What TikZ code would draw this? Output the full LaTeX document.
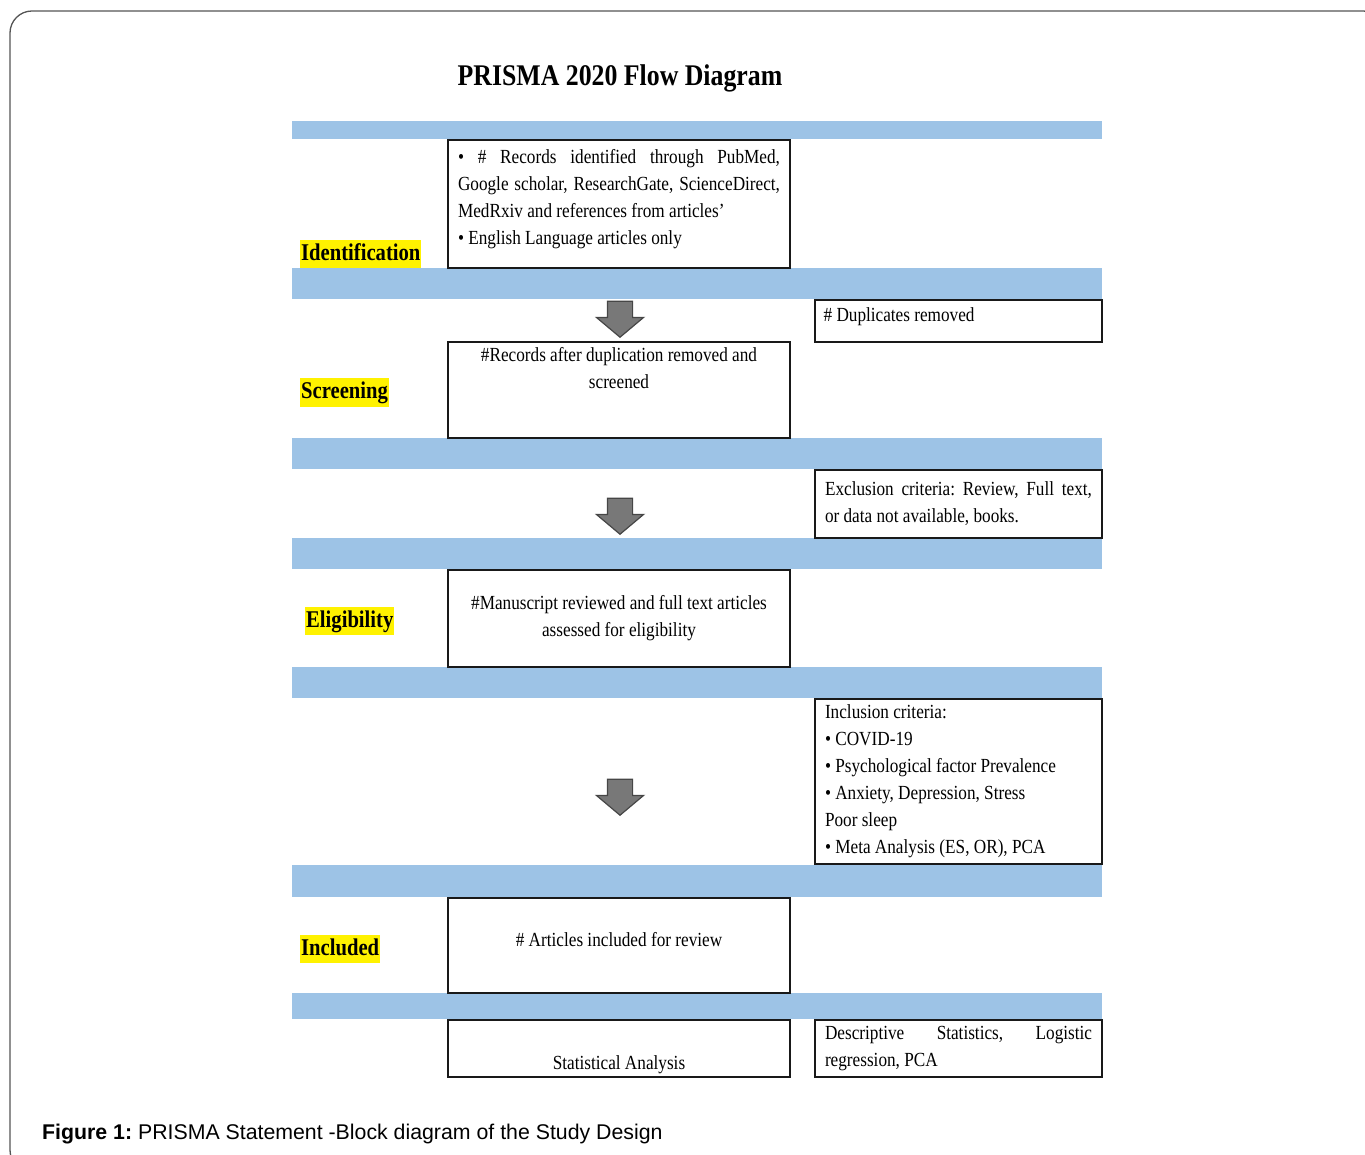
\documentclass[tikz,border=0pt]{standalone}
\usepackage{fontspec}
\setmainfont{Liberation Serif}[FakeStretch=0.86]
\newfontfamily\capfont{Liberation Sans}
\usetikzlibrary{positioning,shapes.arrows}
\definecolor{bandblue}{RGB}{157,195,230}
\definecolor{arrowgray}{RGB}{120,120,120}
\definecolor{arrowedge}{RGB}{70,70,70}
\definecolor{frameline}{RGB}{85,85,85}
\hyphenpenalty=10000
\exhyphenpenalty=10000
\frenchspacing
\tikzset{
  box/.style={draw=black!90, line width=1.2pt, fill=white, inner xsep=10pt, inner ysep=0pt},
  stage/.style={fill=yellow, font=\fontsize{24}{28}\selectfont\bfseries, text height=20pt, text depth=7pt, inner xsep=1pt, inner ysep=0.5pt, anchor=west},
  downarrow/.style={single arrow, rotate=-90, anchor=tip, fill=arrowgray, draw=arrowedge, line width=1.2pt, minimum height=36pt, single arrow head extend=11pt, single arrow tip angle=100, inner xsep=0pt, inner ysep=12pt}
}
\begin{document}
\begin{tikzpicture}[x=1pt, y=-1pt, font=\fontsize{20}{27}\selectfont]
\useasboundingbox (0,0) rectangle (1365,1155);
\clip (0,0) rectangle (1365,1155);
% Outer frame, runs off the right and bottom edges
\draw[frameline, line width=1.3pt, rounded corners=22pt] (10,11) rectangle (1385,1172);
% Title
\node[font=\fontsize{30}{36}\selectfont\bfseries] (title) at (620,78) {PRISMA 2020 Flow Diagram};
% Blue bands between the stages
\foreach \yt/\yb in {121/139, 268/299, 438/469, 538/569, 667/698, 865/897, 993/1019}
{
  \fill[bandblue] (292,\yt) rectangle (1102,\yb);
}
% Stage names
\node[stage] (lident) at (300,254) {Identification};
\node[stage] (lscreen) at (300,392.5) {Screening};
\node[stage] (lelig) at (305,620.5) {Eligibility};
\node[stage] (lincl) at (300,949) {Included};
% Left column
\node[box, minimum width=342pt, minimum height=128pt] (ident) at (619,204) {};
\node[below=10pt of ident.north, inner sep=0pt, text width=322pt, align=justify] (identtxt)
  {• \# Records identified through PubMed, Google scholar, ResearchGate, ScienceDirect, MedRxiv and references from articles’\\ • English Language articles only};
\node[box, minimum width=342pt, minimum height=96pt] (screen) at (619,390) {};
\node[below=6pt of screen.north, inner sep=0pt, align=flush center] (screentxt) {\#Records after duplication removed and\\ screened};
\node[box, minimum width=342pt, minimum height=97pt, align=flush center] (elig) at (619,618.5)
  {\#Manuscript reviewed and full text articles\\ assessed for eligibility};
\node[box, minimum width=342pt, minimum height=95pt] (incl) at (619,945.5) {};
\node[inner sep=0pt] (incltxt) at (619,940) {\# Articles included for review};
\node[box, minimum width=342pt, minimum height=57pt] (stat) at (619,1048.5) {};
\node[above=4pt of stat.south, inner sep=0pt] (stattxt) {Statistical Analysis};
% Right column
\node[box, minimum width=287pt, minimum height=42pt] (dup) at (958.5,321) {};
\node[below right=8pt and 9pt of dup.north west, inner sep=0pt] (duptxt) {\# Duplicates removed};
\node[box, minimum width=287pt, minimum height=68pt, text width=267pt, align=justify] (excl) at (958.5,504)
  {Exclusion criteria: Review, Full text,\linebreak or data not available, books.};
\node[box, minimum width=287pt, minimum height=165pt, text width=267pt, align=flush left] (crit) at (958.5,781.5)
  {Inclusion criteria:\\ • COVID-19\\ • Psychological factor Prevalence\\ • Anxiety, Depression, Stress\\ Poor sleep\\ • Meta Analysis (ES, OR), PCA};
\node[box, minimum width=287pt, minimum height=57pt, text width=267pt, align=justify] (desc) at (958.5,1048.5)
  {Descriptive Statistics, Logistic regression, PCA};
% Block arrows between the stages (placed by their tips)
\node[downarrow] (arr1) at (620,338) {};
\node[downarrow] (arr2) at (620,535) {};
\node[downarrow] (arr3) at (620,816) {};
% Caption
\node[anchor=base west, inner sep=0pt, font=\capfont\fontsize{21.3}{26}\selectfont] (caption) at (42,1139)
  {\textbf{Figure 1:} PRISMA Statement -Block diagram of the Study Design};
\end{tikzpicture}
\end{document}
